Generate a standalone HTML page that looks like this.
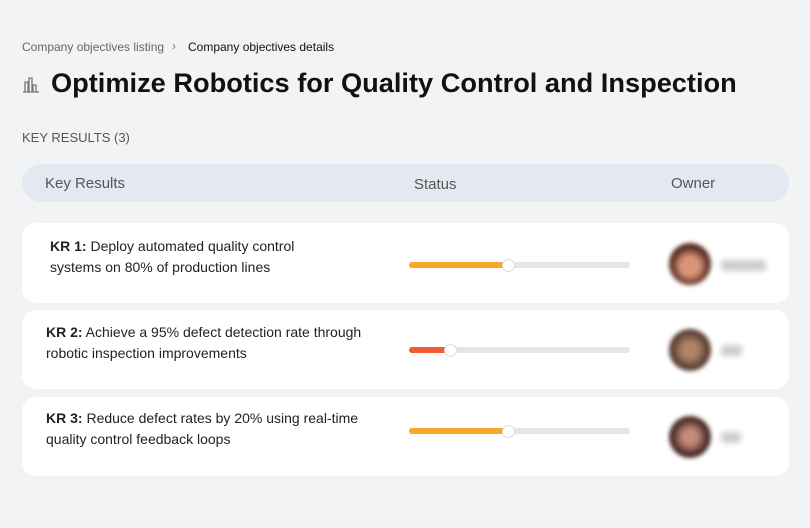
<!DOCTYPE html>
<html><head><style>
body{margin:0;width:810px;height:528px;background:#f2f3f5;font-family:"Liberation Sans",sans-serif;position:relative;overflow:hidden;color:#111}
.a{position:absolute;white-space:nowrap}
.card{position:absolute;left:22px;width:767px;height:80px;background:#fff;border-radius:14px}
.t{position:absolute;font-size:14px;line-height:21px;color:#222;white-space:nowrap}
.track{position:absolute;left:409px;width:221px;height:6px;border-radius:3px;background:#e6e6e6}
.fill{position:absolute;left:0;top:0;height:6px;border-radius:3px}
.knob{position:absolute;top:-3px;width:11px;height:11px;border-radius:50%;background:#fff;border:1px solid #ddd;margin-left:-6px}
.av{position:absolute;left:669px;width:42px;height:42px;border-radius:50%;filter:blur(2px)}
.nm{position:absolute;left:721px;height:11px;background:#ccc;border-radius:4px;filter:blur(3px)}
</style></head><body>
<div class="a" style="left:22px;top:40px;font-size:12px;color:#666">Company objectives listing</div>
<div class="a" style="left:172px;top:39px;font-size:12px;color:#777">›</div>
<div class="a" style="left:188px;top:40px;font-size:12px;color:#111">Company objectives details</div>
<svg class="a" style="left:22px;top:76px" width="18" height="17" viewBox="0 0 18 17"><g fill="none" stroke="#777" stroke-width="1.3"><path d="M1 16h16M3 16V6h3v10M7 16V2h3v14M11 16V9h3v7"/></g></svg>
<div class="a" style="left:51px;top:67px;font-size:27.2px;font-weight:bold;color:#111">Optimize Robotics for Quality Control and Inspection</div>
<div class="a" style="left:22px;top:130px;font-size:13px;color:#555">KEY RESULTS (3)</div>
<div style="position:absolute;left:22px;top:164px;width:767px;height:38px;background:#e4e9f1;border-radius:19px"></div>
<div class="a" style="left:45px;top:175px;font-size:15px;color:#555">Key Results</div>
<div class="a" style="left:414px;top:176px;font-size:15px;color:#555">Status</div>
<div class="a" style="left:671px;top:175px;font-size:15px;color:#555">Owner</div>

<div class="card" style="top:223px"></div>
<div class="t" style="left:50px;top:236px"><b>KR 1:</b> Deploy automated quality control<br>systems on 80% of production lines</div>
<div class="track" style="top:262px"><div class="fill" style="width:99px;background:#f9a72b"></div><div class="knob" style="left:99px"></div></div>
<div class="av" style="top:243px;background:radial-gradient(circle at 50% 55%,#d9957a 0 30%,#5a2e22 60%,#2a1a16)"></div>
<div class="nm" style="top:260px;width:45px"></div>

<div class="card" style="top:310px;height:79px"></div>
<div class="t" style="left:46px;top:322px"><b>KR 2:</b> Achieve a 95% defect detection rate through<br>robotic inspection improvements</div>
<div class="track" style="top:347px"><div class="fill" style="width:41px;background:#f05a35"></div><div class="knob" style="left:41px"></div></div>
<div class="av" style="top:329px;background:radial-gradient(circle at 50% 50%,#b08468 0 25%,#5c4032 60%,#3a2a24)"></div>
<div class="nm" style="top:345px;width:21px"></div>

<div class="card" style="top:397px;height:79px"></div>
<div class="t" style="left:46px;top:408px"><b>KR 3:</b> Reduce defect rates by 20% using real-time<br>quality control feedback loops</div>
<div class="track" style="top:428px"><div class="fill" style="width:99px;background:#f9a72b"></div><div class="knob" style="left:99px"></div></div>
<div class="av" style="top:416px;background:radial-gradient(circle at 50% 50%,#c48a7a 0 25%,#4a2a26 60%,#2a1a1a)"></div>
<div class="nm" style="top:432px;width:20px"></div>
</body></html>
